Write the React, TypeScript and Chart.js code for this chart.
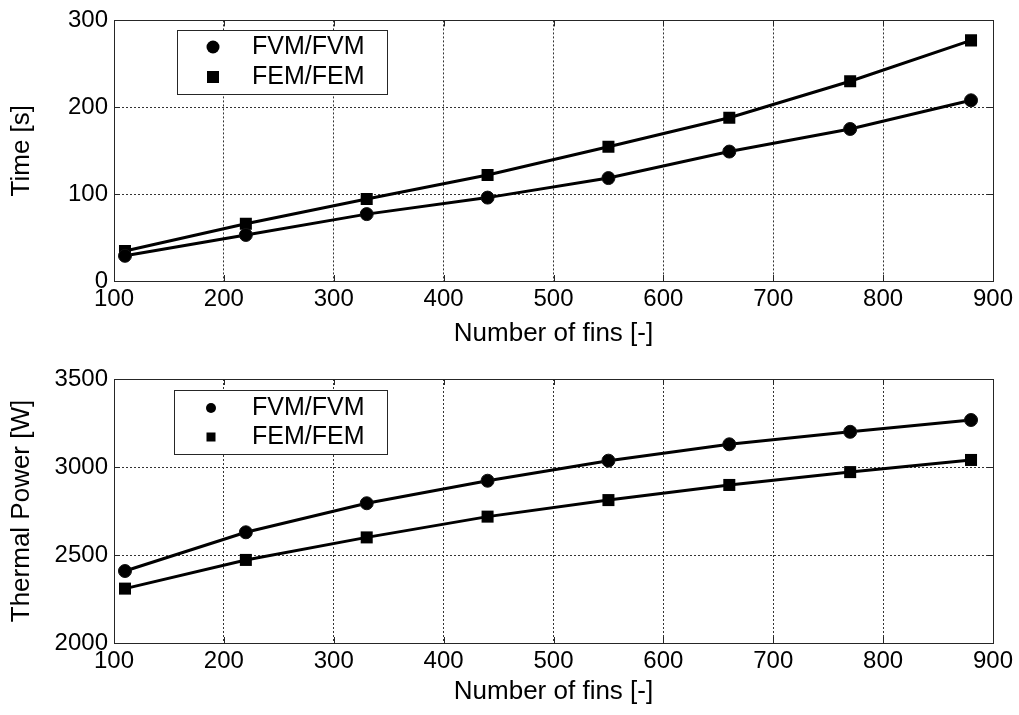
import React, { useEffect, useRef } from "react";
import { Chart, registerables } from "chart.js";

Chart.register(...registerables);

// ---- data ----
const finCounts = [110, 220, 330, 440, 550, 660, 770, 880];
const timeFVM = [29, 53, 77, 96, 118.5, 149, 175, 208];
const timeFEM = [34.5, 66, 94.5, 122, 154.5, 188, 230, 277];
const powerFVM = [2409, 2629, 2794, 2922, 3036, 3129, 3200, 3267];
const powerFEM = [2309, 2472, 2600, 2718, 2812, 2898, 2971, 3040];
const seriesLabels = ["FVM/FVM", "FEM/FEM"];
const xTicks = [100, 200, 300, 400, 500, 600, 700, 800, 900];
const timeTicks = [0, 100, 200, 300];
const powerTicks = [2000, 2500, 3000, 3500];
const xTitle = "Number of fins [-]";
const timeTitle = "Time [s]";
const powerTitle = "Thermal Power [W]";

const FONT = "'Liberation Sans', Arial, Helvetica, sans-serif";

type PanelCfg = {
  height: number;
  padTop: number;
  xAxisHeight: number;
  yTicks: number[];
  yTitle: string;
  fvm: number[];
  fem: number[];
  legend: { x: number; y: number; w: number; h: number; r1: number; r2: number; markerX: number; textX: number; rowA: number; rowB: number; mSize: number };
};

function makePlugin(cfg: PanelCfg) {
  return {
    id: "matlabDecor",
    afterDraw(chart: any) {
      const { ctx, chartArea: a, scales } = chart;
      ctx.save();
      ctx.setLineDash([]);
      ctx.strokeStyle = "#262626";
      ctx.lineWidth = 1;
      // inward ticks
      ctx.beginPath();
      scales.x.ticks.forEach((t: any) => {
        const px = Math.round(scales.x.getPixelForValue(t.value)) + 0.5;
        ctx.moveTo(px, a.bottom);
        ctx.lineTo(px, a.bottom - 6);
        ctx.moveTo(px, a.top);
        ctx.lineTo(px, a.top + 6);
      });
      scales.y.ticks.forEach((t: any) => {
        const py = Math.round(scales.y.getPixelForValue(t.value)) + 0.5;
        ctx.moveTo(a.left, py);
        ctx.lineTo(a.left + 6, py);
        ctx.moveTo(a.right, py);
        ctx.lineTo(a.right - 6, py);
      });
      ctx.stroke();
      // box
      ctx.strokeRect(
        Math.round(a.left) + 0.5,
        Math.round(a.top) + 0.5,
        Math.round(a.right - a.left),
        Math.round(a.bottom - a.top)
      );
      // legend
      const L = cfg.legend;
      ctx.fillStyle = "#ffffff";
      ctx.fillRect(L.x, L.y, L.w, L.h);
      ctx.strokeStyle = "#262626";
      ctx.strokeRect(L.x + 0.5, L.y + 0.5, L.w, L.h);
      ctx.fillStyle = "#000";
      ctx.beginPath();
      ctx.arc(L.markerX, L.rowA, L.r1, 0, Math.PI * 2);
      ctx.fill();
      ctx.fillRect(L.markerX - L.mSize / 2, L.rowB - L.mSize / 2, L.mSize, L.mSize);
      ctx.font = `25px ${FONT}`;
      ctx.textBaseline = "middle";
      ctx.textAlign = "left";
      ctx.fillText(seriesLabels[0], L.textX, L.rowA);
      ctx.fillText(seriesLabels[1], L.textX, L.rowB);
      ctx.restore();
    },
  };
}

function Panel({ cfg }: { cfg: PanelCfg }) {
  const ref = useRef<HTMLCanvasElement | null>(null);
  useEffect(() => {
    if (!ref.current) return;
    const mk = (vals: number[]) => finCounts.map((x, i) => ({ x, y: vals[i] }));
    const chart = new Chart(ref.current, {
      type: "line",
      data: {
        datasets: [
          {
            label: seriesLabels[0],
            data: mk(cfg.fvm),
            borderColor: "#000",
            backgroundColor: "#000",
            borderWidth: 3,
            pointStyle: "circle",
            pointRadius: 6.5,
            pointBorderColor: "#111",
            pointBackgroundColor: "#000",
            pointBorderWidth: 1,
            tension: 0,
          },
          {
            label: seriesLabels[1],
            data: mk(cfg.fem),
            borderColor: "#000",
            backgroundColor: "#000",
            borderWidth: 3,
            pointStyle: "rect",
            pointRadius: 8.5,
            pointBorderColor: "#000",
            pointBackgroundColor: "#000",
            pointBorderWidth: 0,
            tension: 0,
          },
        ],
      },
      options: {
        animation: false,
        responsive: false,
        maintainAspectRatio: false,
        events: [],
        layout: { padding: { left: 0, top: cfg.padTop, right: 26, bottom: 0 } },
        plugins: { legend: { display: false }, tooltip: { enabled: false }, title: { display: false } },
        scales: {
          x: {
            type: "linear",
            min: 100,
            max: 900,
            afterBuildTicks: (s: any) => {
              s.ticks = xTicks.map((v) => ({ value: v }));
            },
            afterFit: (s: any) => {
              s.height = cfg.xAxisHeight;
            },
            grid: { color: "#333", lineWidth: 1, drawTicks: false },
            border: { display: false, dash: [2, 2] },
            ticks: {
              color: "#000",
              font: { family: FONT, size: 24 },
              padding: 4,
              maxRotation: 0,
              autoSkip: false,
              callback: (v: any) => String(v),
            },
            title: {
              display: true,
              text: xTitle,
              color: "#000",
              font: { family: FONT, size: 26 },
              padding: { top: 0, bottom: 8 },
            },
          },
          y: {
            type: "linear",
            min: cfg.yTicks[0],
            max: cfg.yTicks[cfg.yTicks.length - 1],
            afterBuildTicks: (s: any) => {
              s.ticks = cfg.yTicks.map((v) => ({ value: v }));
            },
            afterFit: (s: any) => {
              s.width = 114;
            },
            grid: { color: "#333", lineWidth: 1, drawTicks: false },
            border: { display: false, dash: [2, 2] },
            ticks: {
              color: "#000",
              font: { family: FONT, size: 24 },
              padding: 6,
              autoSkip: false,
              callback: (v: any) => String(v),
            },
            title: {
              display: true,
              text: cfg.yTitle,
              color: "#000",
              font: { family: FONT, size: 26 },
              padding: { top: 6, bottom: 0 },
            },
          },
        },
      },
      plugins: [makePlugin(cfg)],
    } as any);
    return () => chart.destroy();
  }, [cfg]);
  return (
    <canvas
      ref={ref}
      width={1019}
      height={cfg.height}
      style={{ display: "block", width: 1019, height: cfg.height }}
    />
  );
}

const topCfg: PanelCfg = {
  height: 357,
  padTop: 17,
  xAxisHeight: 76,
  yTicks: timeTicks,
  yTitle: timeTitle,
  fvm: timeFVM,
  fem: timeFEM,
  legend: { x: 177, y: 30, w: 210, h: 64, r1: 6.5, r2: 6, markerX: 213, textX: 252, rowA: 47, rowB: 77, mSize: 12 },
};

const bottomCfg: PanelCfg = {
  height: 358,
  padTop: 22,
  xAxisHeight: 72,
  yTicks: powerTicks,
  yTitle: powerTitle,
  fvm: powerFVM,
  fem: powerFEM,
  legend: { x: 174, y: 33, w: 213, h: 64, r1: 5, r2: 5, markerX: 211, textX: 252, rowA: 51, rowB: 80, mSize: 9 },
};

export default function App() {
  return (
    <div
      style={{
        position: "absolute",
        left: 0,
        top: 0,
        width: 1019,
        height: 715,
        background: "#fff",
        overflow: "hidden",
      }}
    >
      <Panel cfg={topCfg} />
      <Panel cfg={bottomCfg} />
    </div>
  );
}
